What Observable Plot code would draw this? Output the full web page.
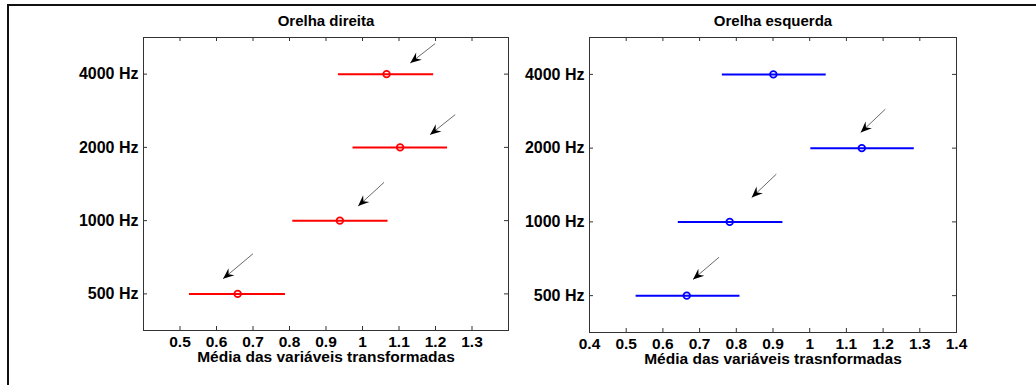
<!DOCTYPE html>
<html>
<head>
<meta charset="utf-8">
<script src="https://cdn.jsdelivr.net/npm/d3@7"></script>
<script src="https://cdn.jsdelivr.net/npm/@observablehq/plot@0.6"></script>
<style>
  html, body { margin: 0; padding: 0; background: #fff; }
  #wrap { position: relative; width: 1036px; height: 385px; overflow: hidden; background: #fff; }
  .panel { position: absolute; top: 0; }
  #outer { position: absolute; left: 7px; top: 4px; width: 1100px; height: 420px;
           border-top: 2px solid #111; border-left: 2px solid #111; pointer-events: none; z-index: 5; }
</style>
</head>
<body>
<div id="wrap">
  <div id="pleft" class="panel" style="left:0px"></div>
  <div id="pright" class="panel" style="left:518px"></div>
  <div id="outer"></div>
</div>
<script>
// ---- Data ----
const freqLabels = ["500 Hz", "1000 Hz", "2000 Hz", "4000 Hz"];
const freqRank = [1, 2, 3, 4];

// Orelha direita (red)
const direitaMean = [0.658, 0.938, 1.103, 1.066];
const direitaLow  = [0.526, 0.809, 0.974, 0.934];
const direitaHigh = [0.789, 1.070, 1.233, 1.195];
// arrows: [tailX, tailY, headX, headY] (y in frequency-rank units)
const direitaArrows = [
  [0.700, 1.548, 0.618, 1.206],
  [1.059, 2.522, 0.988, 2.198],
  [1.254, 3.447, 1.185, 3.173],
  [1.199, 4.417, 1.131, 4.152]
];
const direitaTicks = [0.5, 0.6, 0.7, 0.8, 0.9, 1, 1.1, 1.2, 1.3];

// Orelha esquerda (blue)
const esquerdaMean = [0.665, 0.782, 1.142, 0.901];
const esquerdaLow  = [0.527, 0.642, 1.003, 0.762];
const esquerdaHigh = [0.810, 0.927, 1.285, 1.045];
const esquerdaArrows = [
  [0.753, 1.521, 0.682, 1.219],
  [0.909, 2.647, 0.842, 2.330],
  [1.206, 3.528, 1.139, 3.212]
];
const esquerdaTicks = [0.4, 0.5, 0.6, 0.7, 0.8, 0.9, 1, 1.1, 1.2, 1.3, 1.4];
const topTicks = [0.5, 0.6, 0.7, 0.8, 0.9, 1, 1.1, 1.2, 1.3];

function panel({mean, low, high, color, arrows, xTicks, title, xlabel, width, height,
                marginLeft, marginRight, marginTop, marginBottom, markerId}) {
  const rows = freqRank.map((r, i) => ({r, m: mean[i], lo: low[i], hi: high[i]}));
  const arr = arrows.map(a => ({x1: a[0], y1: a[1], x2: a[2], y2: a[3]}));
  const fw = width - marginLeft - marginRight;
  const fh = height - marginTop - marginBottom;
  const tk = 4;
  const frameColor = "#333";
  const svg = Plot.plot({
    width, height, marginLeft, marginRight, marginTop, marginBottom,
    style: {fontFamily: "'Liberation Sans', Arial, sans-serif", fontSize: "15px",
            fontWeight: "bold", background: "transparent", overflow: "visible", color: "#000"},
    x: {domain: [0.4, 1.4]},
    y: {domain: [0.5, 4.5]},
    marks: [
      Plot.frame({stroke: frameColor, strokeWidth: 1}),
      Plot.ruleX(xTicks, {x: d => d, insetTop: fh - tk, stroke: frameColor}),
      Plot.ruleX(topTicks, {x: d => d, insetBottom: fh - tk, stroke: frameColor}),
      Plot.ruleY(freqRank, {y: d => d, insetRight: fw - tk, stroke: frameColor}),
      Plot.ruleY(freqRank, {y: d => d, insetLeft: fw - tk, stroke: frameColor}),
      Plot.axisX({ticks: xTicks, tickSize: 0, tickPadding: 5, tickFormat: d => String(d), label: null, fill: "#000", fontSize: 15.5}),
      Plot.axisY({ticks: freqRank, tickSize: 0, tickPadding: 5, tickFormat: r => freqLabels[r - 1], label: null, fill: "#000", fontSize: 16}),
      Plot.ruleY(rows, {y: "r", x1: "lo", x2: "hi", stroke: color, strokeWidth: 2}),
      Plot.dot(rows, {x: "m", y: "r", r: 3.3, stroke: color, strokeWidth: 1.8, fill: "none"}),
      Plot.link(arr, {x1: "x1", y1: "y1", x2: "x2", y2: "y2", stroke: "#444", strokeWidth: 0.8, className: "shaft-" + markerId}),
      Plot.text([title], {text: d => d, frameAnchor: "top", lineAnchor: "middle", dy: -16, fontSize: 15, fontWeight: "bold", fill: "#000"}),
      Plot.text([xlabel], {text: d => d, frameAnchor: "bottom", lineAnchor: "middle", dy: 27, fontSize: 15.5, fontWeight: "bold", fill: "#000"})
    ]
  });
  // filled arrowhead marker (MATLAB-like vback2)
  const ns = "http://www.w3.org/2000/svg";
  const defs = document.createElementNS(ns, "defs");
  const marker = document.createElementNS(ns, "marker");
  marker.setAttribute("id", markerId);
  marker.setAttribute("markerUnits", "userSpaceOnUse");
  marker.setAttribute("orient", "auto");
  marker.setAttribute("refX", "0");
  marker.setAttribute("refY", "0");
  marker.setAttribute("markerWidth", "24");
  marker.setAttribute("markerHeight", "24");
  marker.setAttribute("overflow", "visible");
  const p = document.createElementNS(ns, "path");
  p.setAttribute("d", "M0,0 L-11,-4.6 L-7.2,0 L-11,4.6 Z");
  p.setAttribute("fill", "#000");
  marker.appendChild(p);
  defs.appendChild(marker);
  svg.insertBefore(defs, svg.firstChild);
  svg.querySelectorAll(".shaft-" + markerId + " path, path.shaft-" + markerId).forEach(el => {
    el.setAttribute("marker-end", `url(#${markerId})`);
  });
  return svg;
}

document.getElementById("pleft").appendChild(panel({
  mean: direitaMean, low: direitaLow, high: direitaHigh, color: "#ff0000",
  arrows: direitaArrows, xTicks: direitaTicks,
  title: "Orelha direita", xlabel: "Média das variáveis transformadas",
  width: 518, height: 385, marginLeft: 143, marginRight: 10, marginTop: 37, marginBottom: 55,
  markerId: "headL"
}));

document.getElementById("pright").appendChild(panel({
  mean: esquerdaMean, low: esquerdaLow, high: esquerdaHigh, color: "#0000ff",
  arrows: esquerdaArrows, xTicks: esquerdaTicks,
  title: "Orelha esquerda", xlabel: "Média das variáveis trasnformadas",
  width: 518, height: 385, marginLeft: 71, marginRight: 80, marginTop: 37, marginBottom: 53,
  markerId: "headR"
}));
</script>
</body>
</html>
